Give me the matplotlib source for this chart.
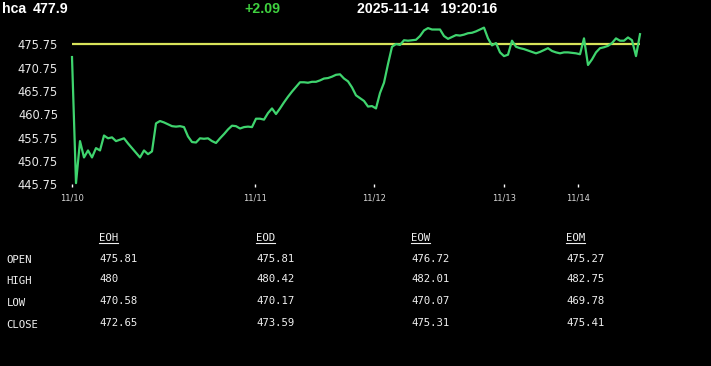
#!/usr/bin/env python3
"""
hca 行情快照 — 绘图脚本
"""
import numpy as np
import matplotlib.pyplot as plt
from matplotlib.lines import Line2D

# ---- 数据 ----
symbol = 'hca'
last_price = '477.9'
change = '+2.09'
stamp = '2025-11-14   19:20:16'
prev_close = 475.81

prices = [
    473.0, 446.0, 455.0, 451.5, 453.0, 451.5, 453.5, 453.0, 456.2, 455.6,
    455.8, 455.0, 455.3, 455.6, 454.5, 453.5, 452.5, 451.5, 453.0, 452.2,
    452.8, 458.8, 459.3, 459.0, 458.6, 458.2, 458.1, 458.2, 458.0, 456.0,
    454.8, 454.7, 455.6, 455.5, 455.6, 455.0, 454.6, 455.6, 456.5, 457.5,
    458.3, 458.2, 457.7, 458.0, 458.1, 458.0, 459.8, 459.8, 459.6, 461.0,
    462.0, 460.8, 462.0, 463.3, 464.5, 465.6, 466.6, 467.6, 467.6, 467.5,
    467.7, 467.7, 468.0, 468.4, 468.5, 468.8, 469.2, 469.3, 468.4, 467.8,
    466.5, 464.8, 464.2, 463.6, 462.4, 462.5, 462.0, 465.3, 467.5, 471.5,
    475.2, 475.8, 475.6, 476.6, 476.5, 476.6, 476.7, 477.5, 478.7, 479.2,
    478.9, 478.9, 478.9, 477.5, 476.9, 477.3, 477.7, 477.6, 477.8, 478.1,
    478.2, 478.5, 478.9, 479.3, 477.0, 475.5, 476.0, 474.0, 473.2, 473.5,
    476.5, 475.2, 474.9, 474.7, 474.4, 474.1, 473.8, 474.1, 474.5, 474.9,
    474.3, 474.0, 473.8, 474.0, 474.0, 473.9, 473.8, 473.6, 477.0, 471.3,
    472.5, 474.0, 474.9, 475.1, 475.4, 476.0, 477.0, 476.5, 476.5, 477.2,
    476.6, 473.2, 477.9,
]
day_ticks = [0, 45.75, 75.5, 108, 126.5]
day_labels = ['11/10', '11/11', '11/12', '11/13', '11/14']
y_ticks = [445.75, 450.75, 455.75, 460.75, 465.75, 470.75, 475.75]

col_names = ['EOH', 'EOD', 'EOW', 'EOM']
row_names = ['OPEN', 'HIGH', 'LOW', 'CLOSE']
table_vals = [
    ['475.81', '475.81', '476.72', '475.27'],
    ['480', '480.42', '482.01', '482.75'],
    ['470.58', '470.17', '470.07', '469.78'],
    ['472.65', '473.59', '475.31', '475.41'],
]

W, H = 711, 366
fig = plt.figure(figsize=(W / 100, H / 100), dpi=100, facecolor='black')

def px(x, y):
    return x / W, 1 - y / H

# ---- 顶部标题行 ----
hdr = dict(fontsize=10.2, fontweight='bold', family='Liberation Sans', va='center')
fig.text(*px(2, 9), symbol, color='white', **hdr)
fig.text(*px(33, 9), last_price, color='white', **hdr)
fig.text(*px(244, 9), change, color='#3fd13f', **hdr)
fig.text(*px(357, 9), stamp, color='white', **hdr)

# ---- 走势图 ----
left, right = 72 / W, 640 / W
bottom, top = 1 - 184.3 / H, 1 - 26.7 / H
ax = fig.add_axes([left, bottom, right - left, top - bottom])
ax.set_facecolor('black')
x = np.arange(len(prices))
ax.axhline(prev_close, color='#d8e35a', lw=1.6, zorder=2)
ax.plot(x, prices, color='#3fd46e', lw=1.6, zorder=3, clip_on=False)
ax.set_xlim(0, len(prices) - 1)
ax.set_ylim(445.75, 479.5)
for s in ax.spines.values():
    s.set_visible(False)
ax.set_yticks(y_ticks)
ax.set_yticklabels([f'{v:.2f}' for v in y_ticks])
ax.tick_params(axis='y', length=0, pad=10, labelsize=8.3, labelcolor='#e8e8e8')
ax.set_xticks(day_ticks)
ax.set_xticklabels(day_labels)
ax.tick_params(axis='x', length=2.5, width=1, color='white', pad=4,
               labelsize=6, labelcolor='#d8d8d8')

# ---- 底部表格 ----
mono = dict(family='DejaVu Sans Mono', fontsize=7.7, color='#f0f0f0', va='center')
col_x = [99, 256, 411, 566]
row_y = [260, 281, 302.7, 325]
renderer = fig.canvas.get_renderer()
for cx, name in zip(col_x, col_names):
    t = fig.text(*px(cx, 238.3), name, **mono)
    bb = t.get_window_extent(renderer)
    yl = 1 - 243.3 / H
    fig.add_artist(Line2D([bb.x0 / W, bb.x1 / W], [yl, yl],
                          color='#f0f0f0', lw=0.8, transform=fig.transFigure))
for ry, name, vals in zip(row_y, row_names, table_vals):
    fig.text(*px(6.5, ry), name, **mono)
    for cx, v in zip(col_x, vals):
        fig.text(*px(cx, ry - 1.5), v, **mono)

fig.savefig('out.png', dpi=100, facecolor='black')
